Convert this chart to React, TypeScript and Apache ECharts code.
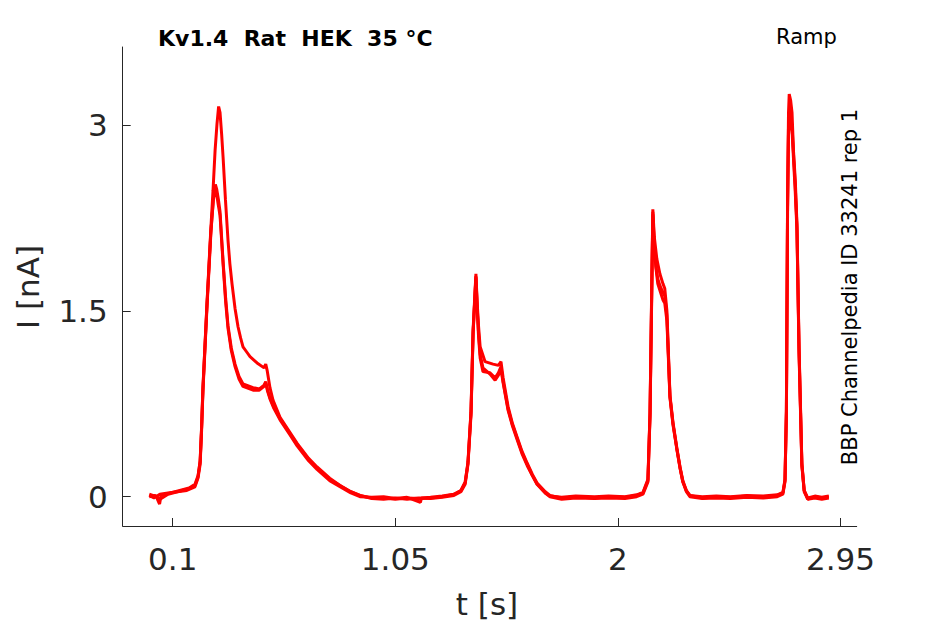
import React, { useEffect, useRef } from "react";
import * as echarts from "echarts";

// Time ticks (s) and current ticks (nA)
const xTicks = [0.1, 1.05, 2, 2.95];
const yTicks = [0, 1.5, 3];

// Three repetitions of the ramp recording: [t (s), I (nA)]
const traceA: number[][] = [
  [0.0, 0.01], [0.02, -0.01], [0.045, 0.02], [0.08, 0.03], [0.12, 0.04], [0.16, 0.06], [0.195, 0.09],
  [0.208, 0.16], [0.217, 0.29], [0.223, 0.55], [0.229, 0.88], [0.246, 1.55], [0.263, 2.17], [0.272, 2.47],
  [0.281, 2.8], [0.289, 3.01], [0.296, 3.15], [0.302, 3.1], [0.309, 2.92], [0.315, 2.74], [0.325, 2.4],
  [0.336, 2.07], [0.344, 1.88], [0.353, 1.72], [0.366, 1.52], [0.379, 1.37], [0.39, 1.28], [0.4, 1.21],
  [0.415, 1.17], [0.43, 1.13], [0.46, 1.08], [0.49, 1.04], [0.497, 1.07], [0.503, 1.02], [0.515, 0.88],
  [0.528, 0.78], [0.558, 0.64], [0.6, 0.52], [0.631, 0.43], [0.68, 0.31], [0.716, 0.24], [0.77, 0.15],
  [0.814, 0.09], [0.86, 0.04], [0.899, 0.01], [0.95, -0.01], [1.0, -0.01], [1.05, -0.02], [1.1, -0.01],
  [1.15, -0.015], [1.2, -0.01], [1.25, 0.0], [1.3, 0.02], [1.33, 0.05], [1.348, 0.11], [1.36, 0.28],
  [1.373, 0.69], [1.382, 1.35], [1.394, 1.8], [1.399, 1.58], [1.405, 1.38], [1.412, 1.21], [1.433, 1.09],
  [1.467, 1.07], [1.49, 1.06], [1.501, 1.09], [1.51, 0.96], [1.531, 0.73], [1.55, 0.59], [1.57, 0.48],
  [1.59, 0.37], [1.613, 0.27], [1.635, 0.18], [1.655, 0.11], [1.69, 0.04], [1.71, 0.01], [1.76, -0.01],
  [1.82, 0.0], [1.9, -0.01], [1.96, 0.0], [2.03, -0.005], [2.08, 0.01], [2.107, 0.03], [2.128, 0.13],
  [2.137, 0.67], [2.145, 1.8], [2.149, 2.32], [2.155, 2.1], [2.166, 1.92], [2.179, 1.8], [2.192, 1.72],
  [2.2, 1.68], [2.209, 1.5], [2.222, 0.82], [2.235, 0.6], [2.251, 0.4], [2.265, 0.24], [2.277, 0.13],
  [2.292, 0.05], [2.307, 0.01], [2.36, -0.01], [2.42, 0.0], [2.48, -0.005], [2.55, 0.005], [2.62, -0.005],
  [2.68, 0.01], [2.704, 0.03], [2.713, 0.13], [2.719, 0.7], [2.724, 2.4], [2.728, 3.1], [2.731, 3.25],
  [2.737, 3.2], [2.743, 3.1], [2.749, 2.8], [2.757, 2.55], [2.764, 2.2], [2.773, 1.2], [2.785, 0.27],
  [2.795, 0.05], [2.81, -0.02], [2.84, 0.0], [2.87, -0.01], [2.9, 0.0],
];

const traceB: number[][] = [
  [0.0, 0.0], [0.025, 0.01], [0.046, -0.02], [0.08, 0.02], [0.12, 0.04], [0.16, 0.05], [0.195, 0.08],
  [0.208, 0.15], [0.217, 0.26], [0.223, 0.52], [0.229, 0.85], [0.246, 1.52], [0.263, 2.13], [0.274, 2.42],
  [0.282, 2.52], [0.288, 2.48], [0.295, 2.4], [0.302, 2.3], [0.315, 1.9], [0.326, 1.6], [0.336, 1.38],
  [0.35, 1.2], [0.366, 1.07], [0.383, 0.97], [0.4, 0.91], [0.443, 0.88], [0.47, 0.87], [0.49, 0.9],
  [0.497, 0.93], [0.505, 0.86], [0.515, 0.8], [0.53, 0.73], [0.558, 0.63], [0.6, 0.51], [0.631, 0.42],
  [0.68, 0.3], [0.716, 0.23], [0.77, 0.14], [0.814, 0.09], [0.86, 0.04], [0.899, 0.01], [0.95, -0.015],
  [1.0, -0.02], [1.05, -0.01], [1.1, -0.02], [1.15, -0.01], [1.2, -0.015], [1.25, -0.005], [1.3, 0.01],
  [1.33, 0.04], [1.348, 0.1], [1.36, 0.26], [1.373, 0.66], [1.382, 1.32], [1.394, 1.77], [1.399, 1.53],
  [1.405, 1.3], [1.412, 1.12], [1.424, 1.01], [1.454, 1.0], [1.476, 0.96], [1.49, 1.0], [1.501, 1.05],
  [1.51, 0.93], [1.531, 0.71], [1.55, 0.58], [1.57, 0.47], [1.59, 0.36], [1.613, 0.26], [1.635, 0.17],
  [1.655, 0.1], [1.69, 0.03], [1.71, 0.0], [1.76, -0.02], [1.82, -0.01], [1.9, -0.015], [1.96, -0.01],
  [2.03, -0.015], [2.08, 0.0], [2.107, 0.02], [2.128, 0.12], [2.137, 0.65], [2.145, 1.72], [2.149, 2.28],
  [2.155, 2.02], [2.162, 1.85], [2.17, 1.72], [2.18, 1.66], [2.192, 1.59], [2.2, 1.56], [2.209, 1.42],
  [2.222, 0.8], [2.235, 0.58], [2.251, 0.39], [2.265, 0.23], [2.277, 0.12], [2.292, 0.04], [2.307, 0.0],
  [2.36, -0.015], [2.42, -0.01], [2.48, -0.015], [2.55, -0.005], [2.62, -0.01], [2.68, 0.0], [2.704, 0.02],
  [2.713, 0.12], [2.719, 0.68], [2.724, 2.3], [2.728, 2.95], [2.732, 3.06], [2.738, 3.02], [2.744, 2.92],
  [2.75, 2.7], [2.757, 2.45], [2.764, 2.15], [2.773, 1.15], [2.785, 0.25], [2.795, 0.04], [2.81, -0.02],
  [2.84, -0.01], [2.87, -0.02], [2.9, -0.01],
];

const traceC: number[][] = [
  [0.0, 0.02], [0.03, 0.0], [0.044, -0.06], [0.05, 0.01], [0.09, 0.03], [0.13, 0.05], [0.17, 0.07],
  [0.195, 0.1], [0.208, 0.17], [0.217, 0.28], [0.223, 0.54], [0.229, 0.87], [0.246, 1.54], [0.263, 2.15],
  [0.274, 2.4], [0.281, 2.49], [0.287, 2.45], [0.294, 2.36], [0.302, 2.27], [0.315, 1.88], [0.326, 1.57],
  [0.336, 1.36], [0.35, 1.18], [0.366, 1.05], [0.383, 0.95], [0.4, 0.89], [0.443, 0.86], [0.47, 0.86],
  [0.49, 0.89], [0.497, 0.92], [0.505, 0.85], [0.515, 0.79], [0.53, 0.72], [0.558, 0.62], [0.6, 0.5],
  [0.631, 0.41], [0.68, 0.29], [0.716, 0.22], [0.77, 0.13], [0.814, 0.08], [0.86, 0.03], [0.899, 0.0],
  [0.95, -0.005], [1.0, 0.0], [1.05, -0.015], [1.1, -0.005], [1.157, -0.045], [1.162, -0.01], [1.2, -0.005],
  [1.25, 0.005], [1.3, 0.02], [1.33, 0.05], [1.348, 0.12], [1.36, 0.27], [1.373, 0.68], [1.382, 1.33],
  [1.394, 1.78], [1.399, 1.55], [1.405, 1.33], [1.412, 1.15], [1.424, 1.04], [1.454, 0.99], [1.476, 0.94],
  [1.49, 0.98], [1.501, 1.03], [1.51, 0.92], [1.531, 0.7], [1.55, 0.57], [1.57, 0.46], [1.59, 0.35],
  [1.613, 0.25], [1.635, 0.17], [1.655, 0.1], [1.69, 0.03], [1.71, 0.005], [1.76, -0.005], [1.82, 0.005],
  [1.9, 0.0], [1.96, 0.005], [2.03, 0.0], [2.08, 0.015], [2.107, 0.035], [2.128, 0.14], [2.137, 0.68],
  [2.145, 1.76], [2.149, 2.3], [2.155, 2.05], [2.162, 1.86], [2.17, 1.76], [2.18, 1.7], [2.192, 1.65],
  [2.2, 1.62], [2.209, 1.46], [2.222, 0.81], [2.235, 0.59], [2.251, 0.39], [2.265, 0.235], [2.277, 0.12],
  [2.292, 0.05], [2.307, 0.01], [2.36, 0.0], [2.42, 0.005], [2.48, 0.0], [2.55, 0.01], [2.62, 0.005],
  [2.68, 0.015], [2.704, 0.035], [2.713, 0.14], [2.719, 0.69], [2.724, 2.35], [2.728, 3.0], [2.732, 3.12],
  [2.738, 3.08], [2.744, 2.96], [2.75, 2.74], [2.757, 2.5], [2.764, 2.18], [2.773, 1.18], [2.785, 0.26],
  [2.795, 0.05], [2.81, -0.01], [2.84, 0.005], [2.87, -0.005], [2.9, 0.005],
];

const traces = [traceA, traceB, traceC];

const TITLE = "Kv1.4  Rat  HEK  35 °C";
const PROTOCOL = "Ramp";
const SIDE_NOTE = "BBP Channelpedia ID 33241 rep 1";
const X_NAME = "t [s]";
const Y_NAME = "I [nA]";

const FONT = "DejaVu Sans";
const AXIS_COLOR = "#262626";

export default function App() {
  const ref = useRef<HTMLDivElement>(null);

  useEffect(() => {
    if (!ref.current) return;
    const chart = echarts.init(ref.current, undefined, { renderer: "svg" });
    const option: any = {
      animation: false,
      backgroundColor: "#ffffff",
      grid: { left: 122.7, right: 88.3, top: 47, bottom: 98, containLabel: false },
      xAxis: {
        type: "value",
        min: -0.1134,
        max: 3.019,
        axisLine: { show: true, onZero: false, lineStyle: { color: AXIS_COLOR, width: 1 } },
        axisTick: {
          show: true,
          inside: true,
          length: 8,
          customValues: xTicks,
          lineStyle: { color: AXIS_COLOR },
        },
        axisLabel: {
          customValues: xTicks,
          formatter: (v: number) => String(v),
          fontFamily: FONT,
          fontSize: 31,
          color: AXIS_COLOR,
          margin: 17,
          showMinLabel: true,
          showMaxLabel: true,
        },
        splitLine: { show: false },
      },
      yAxis: {
        type: "value",
        min: -0.2365,
        max: 3.63,
        axisLine: { show: true, onZero: false, lineStyle: { color: AXIS_COLOR, width: 1 } },
        axisTick: {
          show: true,
          inside: true,
          length: 8,
          customValues: yTicks,
          lineStyle: { color: AXIS_COLOR },
        },
        axisLabel: {
          customValues: yTicks,
          formatter: (v: number) => String(v),
          fontFamily: FONT,
          fontSize: 31,
          color: AXIS_COLOR,
          margin: 15,
        },
        splitLine: { show: false },
      },
      series: traces.map((tr, i) => ({
        type: "line",
        name: "rep" + (i + 1),
        data: tr,
        showSymbol: false,
        symbol: "none",
        lineStyle: { color: "#ff0000", width: 3 },
        z: 2,
      })),
      graphic: [
        {
          type: "text",
          left: 158,
          top: 27,
          style: {
            text: TITLE,
            fontFamily: FONT,
            fontWeight: "bold",
            fontSize: 22,
            fill: "#000000",
          },
        },
        {
          type: "text",
          left: 776,
          top: 26,
          style: { text: PROTOCOL, fontFamily: FONT, fontSize: 21, fill: "#000000" },
        },
        {
          type: "text",
          x: 850,
          y: 287,
          rotation: Math.PI / 2,
          style: {
            text: SIDE_NOTE,
            fontFamily: FONT,
            fontSize: 21,
            fill: "#000000",
            align: "center",
            verticalAlign: "middle",
            textAlign: "center",
            textVerticalAlign: "middle",
          },
        },
        {
          type: "text",
          x: 487,
          y: 604,
          style: {
            text: X_NAME,
            fontFamily: FONT,
            fontSize: 31,
            fill: AXIS_COLOR,
            align: "center",
            verticalAlign: "middle",
            textAlign: "center",
            textVerticalAlign: "middle",
          },
        },
        {
          type: "text",
          x: 28,
          y: 287,
          rotation: Math.PI / 2,
          style: {
            text: Y_NAME,
            fontFamily: FONT,
            fontSize: 31,
            fill: AXIS_COLOR,
            align: "center",
            verticalAlign: "middle",
            textAlign: "center",
            textVerticalAlign: "middle",
          },
        },
      ],
    };
    chart.setOption(option);
    return () => chart.dispose();
  }, []);

  return (
    <div
      ref={ref}
      style={{ position: "fixed", left: 0, top: 0, width: 945, height: 624, background: "#fff" }}
    />
  );
}
